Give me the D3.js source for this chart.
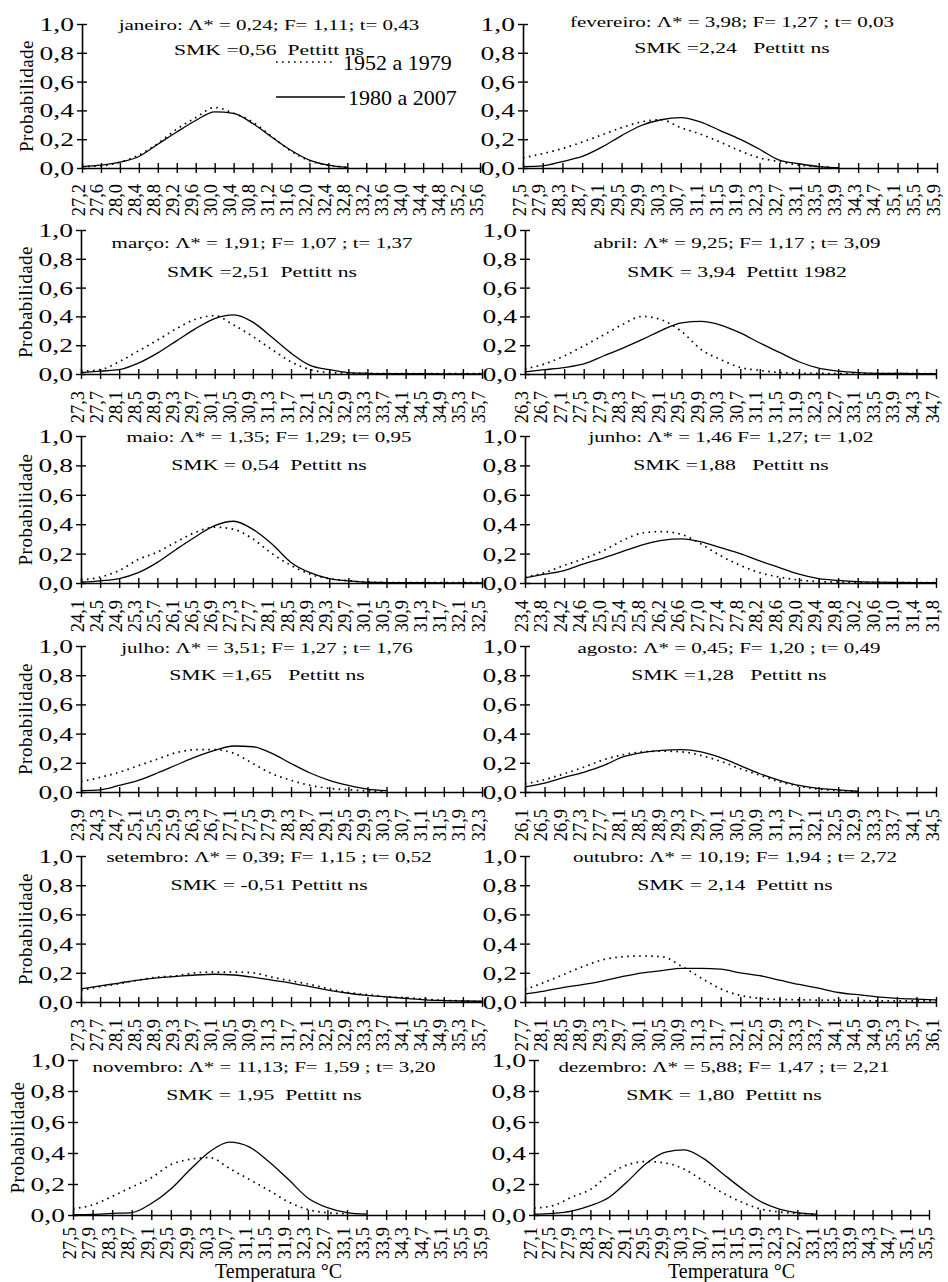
<!DOCTYPE html>
<html>
<head>
<meta charset="utf-8">
<script src="https://cdn.jsdelivr.net/npm/d3@7"></script>
<style>
body{margin:0;background:#fff;}
svg{display:block;}
text{font-family:"Liberation Serif","Times New Roman",serif;fill:#000;white-space:pre;}
</style>
</head>
<body>
<div id="chart"></div>
<script>
// titles
var titleLine1 = [
    "janeiro: Λ* = 0,24; F= 1,11; t= 0,43",
    "fevereiro: Λ* = 3,98; F= 1,27 ; t= 0,03",
    "março: Λ* = 1,91; F= 1,07 ; t= 1,37",
    "abril: Λ* = 9,25; F= 1,17 ; t= 3,09",
    "maio: Λ* = 1,35; F= 1,29; t= 0,95",
    "junho: Λ* = 1,46 F= 1,27; t= 1,02",
    "julho: Λ* = 3,51; F= 1,27 ; t= 1,76",
    "agosto: Λ* = 0,45; F= 1,20 ; t= 0,49",
    "setembro: Λ* = 0,39; F= 1,15 ; t= 0,52",
    "outubro: Λ* = 10,19; F= 1,94 ; t= 2,72",
    "novembro: Λ* = 11,13; F= 1,59 ; t= 3,20",
    "dezembro: Λ* = 5,88; F= 1,47 ; t= 2,21"
];
var titleLine2 = [
    "SMK =0,56  Pettitt ns",
    "SMK =2,24   Pettitt ns",
    "SMK =2,51  Pettitt ns",
    "SMK = 3,94  Pettitt 1982",
    "SMK = 0,54  Pettitt ns",
    "SMK =1,88   Pettitt ns",
    "SMK =1,65   Pettitt ns",
    "SMK =1,28   Pettitt ns",
    "SMK = -0,51 Pettitt ns",
    "SMK = 2,14  Pettitt ns",
    "SMK = 1,95  Pettitt ns",
    "SMK = 1,80  Pettitt ns"
];
var seriesNames = ["1952 a 1979", "1980 a 2007"];
var yTicks = [0, 0.2, 0.4, 0.6, 0.8, 1.0];

// temperature classes (x categories)
var catJan = ["27,2","27,6","28,0","28,4","28,8","29,2","29,6","30,0","30,4","30,8","31,2","31,6","32,0","32,4","32,8","33,2","33,6","34,0","34,4","34,8","35,2","35,6"];
var catFev = ["27,5","27,9","28,3","28,7","29,1","29,5","29,9","30,3","30,7","31,1","31,5","31,9","32,3","32,7","33,1","33,5","33,9","34,3","34,7","35,1","35,5","35,9"];
var catMar = ["27,3","27,7","28,1","28,5","28,9","29,3","29,7","30,1","30,5","30,9","31,3","31,7","32,1","32,5","32,9","33,3","33,7","34,1","34,5","34,9","35,3","35,7"];
var catAbr = ["26,3","26,7","27,1","27,5","27,9","28,3","28,7","29,1","29,5","29,9","30,3","30,7","31,1","31,5","31,9","32,3","32,7","33,1","33,5","33,9","34,3","34,7"];
var catMai = ["24,1","24,5","24,9","25,3","25,7","26,1","26,5","26,9","27,3","27,7","28,1","28,5","28,9","29,3","29,7","30,1","30,5","30,9","31,3","31,7","32,1","32,5"];
var catJun = ["23,4","23,8","24,2","24,6","25,0","25,4","25,8","26,2","26,6","27,0","27,4","27,8","28,2","28,6","29,0","29,4","29,8","30,2","30,6","31,0","31,4","31,8"];
var catJul = ["23,9","24,3","24,7","25,1","25,5","25,9","26,3","26,7","27,1","27,5","27,9","28,3","28,7","29,1","29,5","29,9","30,3","30,7","31,1","31,5","31,9","32,3"];
var catAgo = ["26,1","26,5","26,9","27,3","27,7","28,1","28,5","28,9","29,3","29,7","30,1","30,5","30,9","31,3","31,7","32,1","32,5","32,9","33,3","33,7","34,1","34,5"];
var catSet = ["27,3","27,7","28,1","28,5","28,9","29,3","29,7","30,1","30,5","30,9","31,3","31,7","32,1","32,5","32,9","33,3","33,7","34,1","34,5","34,9","35,3","35,7"];
var catOut = ["27,7","28,1","28,5","28,9","29,3","29,7","30,1","30,5","30,9","31,3","31,7","32,1","32,5","32,9","33,3","33,7","34,1","34,5","34,9","35,3","35,7","36,1"];
var catNov = ["27,5","27,9","28,3","28,7","29,1","29,5","29,9","30,3","30,7","31,1","31,5","31,9","32,3","32,7","33,1","33,5","33,9","34,3","34,7","35,1","35,5","35,9"];
var catDez = ["27,1","27,5","27,9","28,3","28,7","29,1","29,5","29,9","30,3","30,7","31,1","31,5","31,9","32,3","32,7","33,1","33,5","33,9","34,3","34,7","35,1","35,5"];

// probabilities 1952 a 1979 (dotted)
var oldJan = [0.01,0.015,0.04,0.09,0.17,0.27,0.35,0.42,0.38,0.32,0.22,0.12,0.05,0.02,0.005];
var oldFev = [0.07,0.1,0.135,0.18,0.23,0.28,0.32,0.335,0.28,0.235,0.18,0.12,0.07,0.045,0.02,0.01,0.0];
var oldMar = [0.02,0.03,0.085,0.16,0.235,0.315,0.38,0.405,0.34,0.26,0.17,0.085,0.03,0.01,0.005,0.004,0.003,0.003,0.002,0.002,0.002,0.002];
var oldAbr = [0.035,0.07,0.125,0.195,0.27,0.345,0.4,0.375,0.295,0.17,0.1,0.045,0.025,0.01,0.005,0.004,0.003,0.003,0.003,0.003,0.003,0.003];
var oldMai = [0.02,0.04,0.085,0.16,0.21,0.28,0.345,0.38,0.365,0.3,0.2,0.12,0.06,0.03,0.015,0.006,0.004,0.003,0.003,0.002,0.002,0.002];
var oldJun = [0.04,0.07,0.12,0.165,0.22,0.29,0.34,0.35,0.33,0.265,0.185,0.12,0.07,0.04,0.02,0.01,0.006,0.004,0.003,0.003,0.002,0.002];
var oldJul = [0.07,0.1,0.135,0.18,0.225,0.27,0.29,0.29,0.265,0.195,0.125,0.08,0.045,0.025,0.015,0.008,0.005];
var oldAgo = [0.055,0.085,0.125,0.17,0.22,0.255,0.275,0.28,0.275,0.25,0.21,0.16,0.115,0.07,0.04,0.02,0.01,0.005];
var oldSet = [0.08,0.105,0.125,0.15,0.17,0.18,0.2,0.205,0.205,0.2,0.17,0.145,0.12,0.09,0.065,0.05,0.035,0.03,0.02,0.012,0.007,0.003];
var oldOut = [0.085,0.135,0.19,0.245,0.29,0.31,0.315,0.31,0.245,0.165,0.09,0.045,0.025,0.017,0.015,0.013,0.012,0.01,0.008,0.008,0.008,0.008];
var oldNov = [0.04,0.065,0.12,0.18,0.24,0.325,0.36,0.37,0.3,0.23,0.16,0.085,0.035,0.015,0.008];
var oldDez = [0.045,0.06,0.115,0.165,0.26,0.325,0.345,0.335,0.295,0.22,0.145,0.085,0.04,0.02,0.01,0.004];

// probabilities 1980 a 2007 (solid)
var newJan = [0.01,0.02,0.04,0.08,0.165,0.25,0.33,0.39,0.38,0.31,0.215,0.125,0.055,0.02,0.005];
var newFev = [0.01,0.015,0.045,0.08,0.145,0.225,0.295,0.335,0.35,0.32,0.26,0.2,0.13,0.055,0.03,0.01,0.002];
var newMar = [0.01,0.02,0.03,0.075,0.145,0.23,0.315,0.385,0.41,0.36,0.255,0.145,0.06,0.03,0.01,0.005,0.003,0.002,0.002,0.001,0.001,0.001];
var newAbr = [0.015,0.03,0.045,0.07,0.125,0.18,0.24,0.305,0.355,0.365,0.34,0.285,0.215,0.15,0.085,0.04,0.02,0.01,0.005,0.004,0.003,0.003];
var newMai = [0.005,0.015,0.03,0.07,0.14,0.23,0.315,0.39,0.42,0.365,0.265,0.14,0.07,0.03,0.015,0.005,0.003,0.002,0.002,0.001,0.001,0.001];
var newJun = [0.035,0.06,0.085,0.13,0.17,0.215,0.26,0.29,0.3,0.28,0.24,0.2,0.15,0.105,0.06,0.03,0.018,0.01,0.006,0.004,0.003,0.003];
var newJul = [0.01,0.015,0.045,0.08,0.13,0.185,0.24,0.285,0.315,0.31,0.265,0.195,0.13,0.08,0.045,0.02,0.01];
var newAgo = [0.035,0.06,0.1,0.135,0.18,0.24,0.27,0.285,0.29,0.275,0.235,0.18,0.125,0.08,0.045,0.025,0.015,0.005];
var newSet = [0.09,0.11,0.13,0.15,0.165,0.175,0.185,0.19,0.185,0.17,0.15,0.13,0.105,0.08,0.06,0.045,0.035,0.025,0.015,0.01,0.007,0.005];
var newOut = [0.055,0.075,0.1,0.12,0.145,0.175,0.2,0.215,0.23,0.23,0.225,0.2,0.18,0.15,0.12,0.095,0.065,0.05,0.035,0.025,0.02,0.015];
var newNov = [0.002,0.004,0.01,0.015,0.074,0.168,0.295,0.41,0.47,0.44,0.345,0.23,0.11,0.047,0.015,0.005];
var newDez = [0.005,0.01,0.025,0.06,0.115,0.22,0.335,0.405,0.42,0.365,0.27,0.175,0.09,0.04,0.015,0.005];

var panels = [
    {cats: catJan, old: oldJan, now: newJan},
    {cats: catFev, old: oldFev, now: newFev},
    {cats: catMar, old: oldMar, now: newMar},
    {cats: catAbr, old: oldAbr, now: newAbr},
    {cats: catMai, old: oldMai, now: newMai},
    {cats: catJun, old: oldJun, now: newJun},
    {cats: catJul, old: oldJul, now: newJul},
    {cats: catAgo, old: oldAgo, now: newAgo},
    {cats: catSet, old: oldSet, now: newSet},
    {cats: catOut, old: oldOut, now: newOut},
    {cats: catNov, old: oldNov, now: newNov},
    {cats: catDez, old: oldDez, now: newDez}
];

// layout of the 6 rows (pixel positions measured on the figure)
var rows = [
    {top: 24,   bottom: 168,  xs: [[82, 480], [523, 937]], t1: [6, 3],   t2: [31, 29], tx: [269, 732], lab: 16},
    {top: 230,  bottom: 374,  xs: [[81, 482], [525, 936]], t1: [18, 18], t2: [47, 47], tx: [262, 737], lab: 17},
    {top: 436,  bottom: 583,  xs: [[81, 482], [525, 936]], t1: [6, 6],   t2: [34, 34], tx: [269, 731], lab: 17},
    {top: 646,  bottom: 792,  xs: [[81, 482], [525, 936]], t1: [7, 7],   t2: [34, 34], tx: [267, 729], lab: 17},
    {top: 856,  bottom: 1002, xs: [[81, 482], [525, 936]], t1: [6, 6],   t2: [34, 34], tx: [269, 735], lab: 17},
    {top: 1060, bottom: 1215, xs: [[73, 484], [534, 929]], t1: [12, 12], t2: [40, 40], tx: [264, 724], lab: 12}
];

var FONT = "Liberation Serif, Times New Roman, serif";
var SX = 1.4; // horizontal stretch of the original figure's text
var fmt = function(v){ return d3.format(".1f")(v).replace(".", ","); };

var svg = d3.select("#chart")
        .append("svg")
        .attr("width", 948)
        .attr("height", 1282)
        .attr("font-family", FONT);

panels.forEach(function(p, k){
    var r = rows[Math.floor(k / 2)];
    var col = k % 2;
    var x = d3.scalePoint().domain(p.cats).range(r.xs[col]);
    var y = d3.scaleLinear().domain([0, 1]).range([r.bottom, r.top]);
    var x0 = r.xs[col][0];

    var g = svg.append("g").attr("class", "panel");

    // y axis
    var yAxis = d3.axisLeft(y).tickValues(yTicks).tickSizeInner(5).tickSizeOuter(0).tickFormat(fmt);
    var ya = g.append("g")
            .attr("transform", "translate(" + x0 + ",0)")
            .call(yAxis)
            .attr("font-family", FONT)
            .attr("font-size", null);
    ya.select(".domain").attr("stroke", "#000").attr("stroke-width", 1.6);
    ya.selectAll(".tick line").attr("x1", 5).attr("stroke", "#000").attr("stroke-width", 1.4);
    ya.selectAll(".tick text")
            .attr("x", null).attr("dy", null)
            .attr("font-size", 19)
            .attr("font-family", FONT)
            .attr("text-anchor", "end")
            .attr("transform", "translate(-8,6.5) scale(1.45,1)");

    // x axis
    var xAxis = d3.axisBottom(x).tickSizeInner(5).tickSizeOuter(0);
    var xa = g.append("g")
            .attr("transform", "translate(0," + r.bottom + ")")
            .call(xAxis)
            .attr("font-family", FONT)
            .attr("font-size", null);
    xa.select(".domain").attr("stroke", "#000").attr("stroke-width", 1.6);
    xa.selectAll(".tick line").attr("y1", -5).attr("stroke", "#000").attr("stroke-width", 1.4);
    xa.selectAll(".tick text")
            .attr("y", null).attr("dy", null)
            .attr("font-size", 18.5)
            .attr("font-family", FONT)
            .attr("text-anchor", "end")
            .attr("transform", "translate(2," + r.lab + ") scale(1.05,1) rotate(-90)");

    // curves
    var line = d3.line()
            .x(function(d, i){ return x(p.cats[i]); })
            .y(function(d){ return y(d); })
            .curve(d3.curveMonotoneX);

    g.append("path")
            .datum(p.old)
            .attr("d", line)
            .attr("fill", "none")
            .attr("stroke", "#000")
            .attr("stroke-width", 1.7)
            .attr("stroke-dasharray", "1.6,4.4");
    g.append("path")
            .datum(p.now)
            .attr("d", line)
            .attr("fill", "none")
            .attr("stroke", "#000")
            .attr("stroke-width", 1.3);

    // titles
    g.append("text")
            .attr("transform", "translate(" + r.tx[col] + "," + (r.top + r.t1[col]) + ") scale(" + SX + ",1)")
            .attr("text-anchor", "middle")
            .attr("font-family", FONT)
            .attr("font-size", 15)
            .text(titleLine1[k]);
    g.append("text")
            .attr("transform", "translate(" + r.tx[col] + "," + (r.top + r.t2[col]) + ") scale(" + SX + ",1)")
            .attr("text-anchor", "middle")
            .attr("font-family", FONT)
            .attr("font-size", 15.5)
            .text(titleLine2[k]);

    // y axis title on the left column
    if(col === 0){
        g.append("text")
                .attr("transform", "translate(" + (x0 - 49) + "," + ((r.top + r.bottom) / 2) + ") rotate(-90)")
                .attr("text-anchor", "middle")
                .attr("font-family", FONT)
                .attr("font-size", 19)
                .attr("letter-spacing", 0.5)
                .text("Probabilidade");
    }

    // x axis title on the last row
    if(k >= 10){
        g.append("text")
                .attr("x", (r.xs[col][0] + r.xs[col][1]) / 2)
                .attr("y", 1278)
                .attr("text-anchor", "middle")
                .attr("font-family", FONT)
                .attr("font-size", 20)
                .text("Temperatura °C");
    }

    // legend in the first panel
    if(k === 0){
        var lg = g.append("g").attr("class", "legend").attr("font-family", FONT);
        lg.append("line")
                .attr("x1", 276).attr("x2", 333).attr("y1", r.top + 38).attr("y2", r.top + 38)
                .attr("stroke", "#000").attr("stroke-width", 1.7).attr("stroke-dasharray", "1.6,4.4");
        lg.append("text")
                .attr("x", 343).attr("y", r.top + 46)
                .attr("font-size", 22)
                .text(seriesNames[0]);
        lg.append("line")
                .attr("x1", 276).attr("x2", 345).attr("y1", r.top + 73).attr("y2", r.top + 73)
                .attr("stroke", "#000").attr("stroke-width", 1.3);
        lg.append("text")
                .attr("x", 348).attr("y", r.top + 81)
                .attr("font-size", 22)
                .text(seriesNames[1]);
    }
});
</script>
</body>
</html>
